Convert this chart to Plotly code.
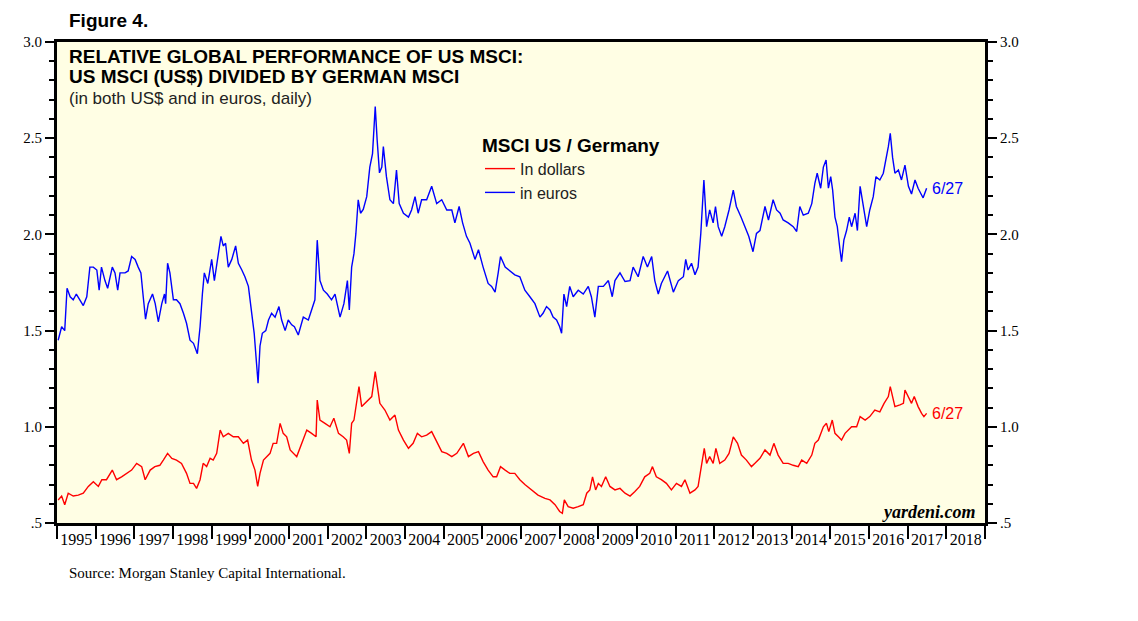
import plotly.graph_objects as go

# ---------------- data ----------------
euro_t = [1995.03,1995.12,1995.20,1995.26,1995.34,1995.42,1995.50,1995.59,1995.68,1995.77,1995.85,1995.94,
          1996.03,1996.09,1996.15,1996.24,1996.31,1996.43,1996.50,1996.57,1996.63,1996.76,1996.84,1996.93,
          1997.02,1997.10,1997.17,1997.23,1997.29,1997.36,1997.47,1997.54,1997.62,1997.71,1997.78,1997.81,1997.86,1997.92,
          1998.01,1998.09,1998.18,1998.27,1998.35,1998.44,1998.53,1998.63,1998.70,1998.76,1998.81,1998.90,
          1999.00,1999.07,1999.17,1999.24,1999.30,1999.36,1999.43,1999.52,1999.62,1999.69,1999.78,1999.86,1999.95,
          2000.03,2000.10,2000.16,2000.20,2000.25,2000.31,2000.40,2000.47,2000.55,2000.64,2000.74,2000.81,2000.90,2000.98,
          2001.07,2001.14,2001.24,2001.37,2001.50,2001.585,2001.67,2001.73,2001.80,2001.89,2001.99,
          2002.10,2002.19,2002.32,2002.42,2002.51,2002.56,2002.62,2002.68,2002.73,2002.79,2002.85,2002.92,
          2003.01,2003.09,2003.16,2003.23,2003.28,2003.34,2003.40,2003.44,2003.52,2003.61,2003.70,2003.78,2003.85,2003.96,
          2004.09,2004.17,2004.26,2004.34,2004.43,2004.56,2004.69,2004.82,2004.95,
          2005.08,2005.21,2005.29,2005.40,2005.49,2005.59,2005.68,2005.81,2005.90,
          2006.02,2006.15,2006.24,2006.33,2006.41,2006.47,2006.59,2006.71,2006.84,2006.97,
          2007.10,2007.23,2007.36,2007.49,2007.57,2007.66,2007.75,2007.83,2007.92,
          2008.00,2008.05,2008.11,2008.18,2008.26,2008.35,2008.48,2008.61,2008.74,2008.82,2008.91,
          2009.00,2009.13,2009.26,2009.36,2009.43,2009.56,2009.69,2009.82,2009.90,
          2010.03,2010.16,2010.27,2010.38,2010.46,2010.55,2010.63,2010.79,2010.94,
          2011.07,2011.20,2011.26,2011.32,2011.41,2011.50,2011.58,2011.65,2011.73,2011.80,2011.88,2011.97,
          2012.03,2012.10,2012.19,2012.27,2012.38,2012.49,2012.57,2012.69,2012.79,2012.89,
          2013.00,2013.09,2013.18,2013.31,2013.40,2013.52,2013.61,2013.70,2013.78,2013.91,
          2014.04,2014.13,2014.21,2014.30,2014.43,2014.52,2014.60,2014.66,2014.75,2014.82,2014.89,2014.95,
          2015.01,2015.06,2015.12,2015.18,2015.25,2015.29,2015.35,2015.42,2015.49,2015.55,2015.64,2015.70,2015.77,2015.85,2015.94,
          2016.02,2016.11,2016.18,2016.28,2016.37,2016.44,2016.50,2016.55,2016.61,2016.67,2016.76,2016.84,2016.93,
          2017.02,2017.10,2017.19,2017.27,2017.36,2017.40,2017.49]
euro_v = [1.45,1.52,1.50,1.72,1.676,1.66,1.69,1.66,1.63,1.676,1.83,1.83,
          1.815,1.71,1.83,1.76,1.72,1.83,1.80,1.71,1.80,1.80,1.81,1.885,
          1.87,1.83,1.80,1.676,1.56,1.64,1.69,1.64,1.546,1.64,1.69,1.64,1.85,1.80,
          1.66,1.66,1.64,1.59,1.538,1.45,1.434,1.38,1.52,1.69,1.80,1.745,
          1.87,1.76,1.90,1.99,1.94,1.954,1.83,1.87,1.94,1.85,1.815,1.78,1.73,
          1.59,1.486,1.33,1.226,1.42,1.486,1.50,1.555,1.59,1.57,1.625,1.555,1.50,1.555,
          1.53,1.52,1.477,1.57,1.555,1.607,1.66,1.97,1.76,1.71,1.69,
          1.66,1.69,1.57,1.64,1.76,1.607,1.83,1.90,2.005,2.18,2.11,2.13,
          2.196,2.35,2.42,2.664,2.49,2.32,2.35,2.456,2.30,2.18,2.16,2.335,2.16,2.11,
          2.09,2.127,2.196,2.11,2.18,2.18,2.25,2.16,2.18,
          2.127,2.127,2.06,2.145,2.06,1.99,1.954,1.87,1.92,
          1.83,1.745,1.73,1.70,1.80,1.885,1.83,1.81,1.79,1.78,
          1.71,1.676,1.64,1.57,1.59,1.625,1.607,1.57,1.555,
          1.52,1.486,1.69,1.625,1.73,1.676,1.71,1.69,1.73,1.676,1.57,
          1.73,1.73,1.76,1.676,1.76,1.80,1.755,1.76,1.83,
          1.78,1.885,1.83,1.885,1.76,1.69,1.745,1.81,1.70,
          1.76,1.78,1.87,1.815,1.85,1.79,1.83,2.005,2.283,2.04,2.127,2.06,
          2.145,2.04,1.99,2.04,2.127,2.23,2.145,2.09,2.04,1.99,
          1.91,2.005,2.02,2.145,2.075,2.18,2.127,2.11,2.075,2.06,
          2.04,2.015,2.145,2.10,2.11,2.16,2.265,2.318,2.24,2.35,2.387,2.24,
          2.30,2.23,2.09,2.04,1.92,1.858,1.97,2.02,2.09,2.04,2.11,2.02,2.25,2.145,2.04,
          2.127,2.196,2.30,2.283,2.318,2.387,2.456,2.525,2.40,2.318,2.335,2.283,2.36,
          2.25,2.21,2.283,2.24,2.205,2.19,2.24]

usd_t = [1995.03,1995.12,1995.20,1995.29,1995.42,1995.55,1995.68,1995.81,1995.94,
         1996.07,1996.16,1996.28,1996.43,1996.54,1996.67,1996.80,1996.93,
         1997.06,1997.19,1997.28,1997.41,1997.53,1997.66,1997.75,1997.86,1997.97,
         1998.09,1998.22,1998.35,1998.44,1998.53,1998.61,1998.70,1998.78,1998.87,1998.96,
         1999.04,1999.13,1999.22,1999.30,1999.43,1999.56,1999.69,1999.82,1999.93,
         2000.03,2000.12,2000.19,2000.25,2000.34,2000.42,2000.51,2000.59,2000.68,2000.77,2000.85,2000.94,
         2001.03,2001.20,2001.33,2001.46,2001.585,2001.70,2001.73,2001.80,2001.93,
         2002.06,2002.16,2002.28,2002.40,2002.49,2002.56,2002.62,2002.68,2002.75,2002.81,2002.88,
         2003.01,2003.14,2003.23,2003.28,2003.35,2003.48,2003.61,2003.74,2003.83,2003.96,
         2004.09,2004.21,2004.32,2004.43,2004.56,2004.69,2004.82,2004.95,
         2005.08,2005.21,2005.34,2005.51,2005.64,2005.77,2005.90,
         2006.02,2006.15,2006.28,2006.37,2006.47,2006.59,2006.71,2006.84,2006.97,
         2007.10,2007.27,2007.44,2007.62,2007.75,2007.88,
         2008.00,2008.07,2008.12,2008.22,2008.35,2008.48,2008.61,2008.70,2008.78,2008.85,2008.93,
         2009.00,2009.08,2009.19,2009.30,2009.43,2009.56,2009.69,2009.82,2009.94,
         2010.07,2010.20,2010.33,2010.40,2010.50,2010.63,2010.76,2010.89,
         2011.02,2011.15,2011.24,2011.37,2011.50,2011.58,2011.67,2011.74,2011.80,2011.88,2011.97,
         2012.04,2012.14,2012.27,2012.38,2012.49,2012.60,2012.70,2012.83,2012.96,
         2013.05,2013.18,2013.31,2013.44,2013.54,2013.65,2013.78,2013.91,
         2014.04,2014.17,2014.26,2014.39,2014.52,2014.60,2014.69,2014.82,2014.90,2014.96,
         2015.05,2015.12,2015.21,2015.29,2015.38,2015.46,2015.55,2015.68,2015.77,2015.90,
         2016.02,2016.15,2016.28,2016.39,2016.50,2016.55,2016.61,2016.67,2016.80,2016.89,2016.93,
         2017.02,2017.10,2017.17,2017.27,2017.36,2017.42,2017.49]
usd_v = [0.62,0.64,0.595,0.655,0.64,0.645,0.655,0.69,0.715,
         0.69,0.725,0.725,0.775,0.725,0.74,0.758,0.775,
         0.81,0.793,0.725,0.775,0.793,0.80,0.827,0.862,0.836,
         0.827,0.81,0.758,0.706,0.706,0.68,0.725,0.81,0.793,0.836,
         0.827,0.862,0.983,0.948,0.966,0.948,0.948,0.914,0.931,
         0.827,0.775,0.69,0.758,0.827,0.845,0.862,0.914,0.914,1.018,0.966,0.948,
         0.88,0.845,0.914,0.983,0.966,0.948,1.139,1.035,1.018,
         1.0,1.044,0.966,0.948,0.931,0.862,1.018,1.035,1.139,1.209,1.105,
         1.13,1.157,1.287,1.209,1.122,1.087,1.035,1.061,0.983,0.931,
         0.888,0.914,0.966,0.948,0.957,0.975,0.923,0.871,
         0.862,0.845,0.862,0.914,0.845,0.862,0.871,
         0.819,0.775,0.74,0.74,0.793,0.775,0.758,0.758,0.725,
         0.70,0.672,0.645,0.628,0.62,0.595,
         0.56,0.55,0.62,0.585,0.577,0.585,0.595,0.655,0.672,0.74,0.672,
         0.706,0.69,0.74,0.69,0.672,0.68,0.655,0.64,0.663,
         0.69,0.74,0.758,0.793,0.74,0.725,0.706,0.672,
         0.706,0.69,0.725,0.655,0.672,0.69,0.793,0.888,0.81,0.845,0.81,
         0.888,0.81,0.827,0.862,0.948,0.914,0.853,0.827,0.793,
         0.81,0.836,0.88,0.853,0.914,0.853,0.81,0.81,
         0.80,0.793,0.827,0.81,0.853,0.914,0.931,1.0,1.018,0.975,
         1.035,0.966,0.948,0.931,0.966,0.983,1.0,1.0,1.053,1.035,
         1.053,1.087,1.078,1.122,1.157,1.209,1.157,1.105,1.114,1.122,1.191,
         1.157,1.122,1.157,1.105,1.07,1.053,1.07]

year_labels = [str(y) for y in range(1995, 2019)]
y_tickvals = [0.5, 1.0, 1.5, 2.0, 2.5, 3.0]
y_ticktext = [".5", "1.0", "1.5", "2.0", "2.5", "3.0"]
last_label = "6/27"

# ---------------- figure ----------------
BLUE = "#0000FF"
RED = "#FF0000"
SERIF = "Liberation Serif, Times New Roman, serif"
SANS = "Liberation Sans, Arial, sans-serif"

# page offset (browser body margin)
OFF = 8
L, R, T, B = 57 - OFF, 985 - OFF, 42 - OFF, 523 - OFF   # plot area in figure pixels
W, H = 1138, 621

fig = go.Figure()
fig.add_trace(go.Scatter(x=usd_t, y=usd_v, mode="lines", name="In dollars",
                         line=dict(color=RED, width=1.4), yaxis="y2"))
fig.add_trace(go.Scatter(x=euro_t, y=euro_v, mode="lines", name="in euros",
                         line=dict(color=BLUE, width=1.4)))

yax_common = dict(range=[0.5, 3.0], tickmode="array", tickvals=y_tickvals, ticktext=y_ticktext,
                  ticks="outside", ticklen=9, tickwidth=1.5, tickcolor="black",
                  minor=dict(dtick=0.1, tick0=0.5, ticks="outside", ticklen=5, tickwidth=1.5, tickcolor="black"),
                  showgrid=False, zeroline=False, showline=True, linewidth=3, linecolor="black",
                  tickfont=dict(family=SERIF, size=15, color="black"), fixedrange=True)

def px_x(px):
    return (px - OFF - L) / float(R - L)

def px_y(py):
    return (B - (py - OFF)) / float(B - T)

fig.update_layout(
    width=W, height=H,
    margin=dict(l=L, r=W - R, t=T, b=H - B),
    paper_bgcolor="white", plot_bgcolor="#FFFEE4",
    xaxis=dict(range=[1995, 2019], tickmode="array",
               tickvals=[y + 0.5 for y in range(1995, 2019)], ticktext=year_labels,
               ticks="", ticklabelstandoff=0,
               minor=dict(tick0=1995, dtick=1, ticks="outside", ticklen=13, tickwidth=2, tickcolor="black"),
               showgrid=False, zeroline=False, showline=True, linewidth=3, linecolor="black", mirror=True,
               tickfont=dict(family=SERIF, size=16, color="black")),
    yaxis=dict(side="left", mirror=True, **yax_common),
    yaxis2=dict(side="right", overlaying="y", **yax_common),
    showlegend=True,
    legend=dict(x=px_x(480), y=px_y(127), xanchor="left", yanchor="top", bgcolor="rgba(0,0,0,0)",
                title=dict(text="<b>MSCI US / Germany</b>", font=dict(family=SANS, size=19, color="black")),
                font=dict(family=SANS, size=16, color="#222"), itemwidth=30, tracegroupgap=0),
)

ann = []
ann.append(dict(text="<b>Figure 4.</b>", x=px_x(67), y=px_y(20), xref="paper", yref="paper",
                xanchor="left", yanchor="middle", showarrow=False, font=dict(family=SANS, size=19, color="black")))
ann.append(dict(text="<b>RELATIVE GLOBAL PERFORMANCE OF US MSCI:</b>", x=px_x(67), y=px_y(57), xref="paper", yref="paper",
                xanchor="left", yanchor="middle", showarrow=False, font=dict(family=SANS, size=19, color="black")))
ann.append(dict(text="<b>US MSCI (US$) DIVIDED BY GERMAN MSCI</b>", x=px_x(67), y=px_y(76), xref="paper", yref="paper",
                xanchor="left", yanchor="middle", showarrow=False, font=dict(family=SANS, size=19, color="black")))
ann.append(dict(text="(in both US$ and in euros, daily)", x=px_x(67), y=px_y(98), xref="paper", yref="paper",
                xanchor="left", yanchor="middle", showarrow=False, font=dict(family=SANS, size=17, color="#222")))
ann.append(dict(text="<b><i>yardeni.com</i></b>", x=px_x(978), y=px_y(512), xref="paper", yref="paper",
                xanchor="right", yanchor="middle", showarrow=False, font=dict(family=SERIF, size=18, color="black")))
ann.append(dict(text="Source: Morgan Stanley Capital International.", x=px_x(67), y=px_y(573), xref="paper", yref="paper",
                xanchor="left", yanchor="middle", showarrow=False, font=dict(family=SERIF, size=15, color="black")))
ann.append(dict(text=last_label, x=euro_t[-1], y=euro_v[-1], xref="x", yref="y", xanchor="left", yanchor="middle",
                xshift=3, showarrow=False, font=dict(family=SANS, size=16, color=BLUE)))
ann.append(dict(text=last_label, x=usd_t[-1], y=usd_v[-1], xref="x", yref="y", xanchor="left", yanchor="middle",
                xshift=3, showarrow=False, font=dict(family=SANS, size=16, color=RED)))
fig.update_layout(annotations=ann)

fig.write_html("out.html", config={"displayModeBar": False})
